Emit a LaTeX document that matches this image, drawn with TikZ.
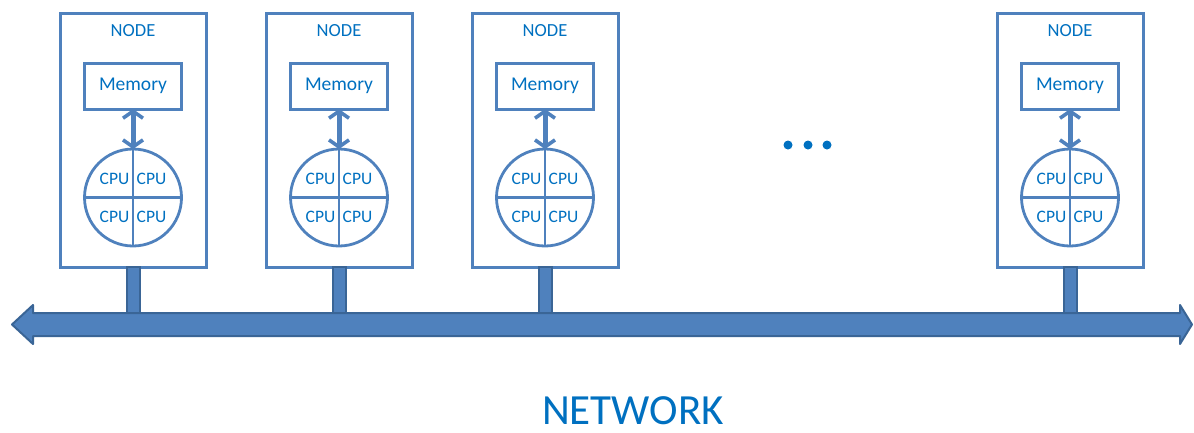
\documentclass[tikz,border=0pt]{standalone}
\usepackage{fontspec}
\setmainfont{Carlito}
\usetikzlibrary{arrows.meta}
\definecolor{frame}{HTML}{4F81BD}
\definecolor{frameDark}{HTML}{3A6596}
\definecolor{labelblue}{HTML}{0070C0}
\begin{document}
\begin{tikzpicture}[x=1pt,y=-1pt,
  nodebox/.style={draw=frame, line width=3pt, minimum width=146pt, minimum height=254pt, inner sep=0pt},
  membox/.style={draw=frame, line width=3pt, minimum width=97pt, minimum height=46pt, inner sep=0pt,
    text=labelblue, font=\fontsize{19.5}{21}\selectfont},
  cpuball/.style={draw=frame, line width=2.8pt, circle, minimum size=97pt, inner sep=0pt},
  cpulabel/.style={text=labelblue, font=\fontsize{17.5}{19}\selectfont, inner sep=0pt},
  titlelabel/.style={text=labelblue, font=\fontsize{18.5}{20}\selectfont, inner sep=0pt},
  busarrow/.style={draw=frame, line width=5pt,
    {Straight Barb[length=7pt,width=20pt,line width=3.6pt]}-{Straight Barb[length=7pt,width=20pt,line width=3.6pt]}},
  stembar/.style={fill=frame, draw=frameDark, line width=2pt},
  dot/.style={circle, fill=labelblue, minimum size=9pt, inner sep=0pt}
]
\useasboundingbox (0,0) rectangle (1194,432);

% network backbone
\path[fill=frame, draw=frameDark, line width=2pt, line join=round]
  (12,324.5) -- (33,305) -- (33,313) -- (1180,313) -- (1180,305) -- (1192,324.5)
  -- (1180,344) -- (1180,336) -- (33,336) -- (33,344) -- cycle;

% compute nodes
\foreach \i/\cx in {1/133, 2/339, 3/545, 4/1070} {
  \node[nodebox] (box\i) at (\cx,140) {};
  \node[titlelabel] (title\i) at (\cx,31) {NODE};
  \node[membox] (mem\i) at (\cx,86) {Memory};
  \node[cpuball] (cpu\i) at (\cx,197.5) {};
  \draw[frame, line width=2.8pt] (cpu\i.north) -- (cpu\i.south)
                                  (cpu\i.west) -- (cpu\i.east);
  \node[cpulabel] (cpu\i a) at (\cx-18.5,178.5) {CPU};
  \node[cpulabel] (cpu\i b) at (\cx+18.5,178.5) {CPU};
  \node[cpulabel] (cpu\i c) at (\cx-18.5,217) {CPU};
  \node[cpulabel] (cpu\i d) at (\cx+18.5,217) {CPU};
  \draw[busarrow] ([yshift=1.5pt]mem\i.south) -- ([yshift=-1.5pt]cpu\i.north);
  \coordinate (tap\i) at (\cx,313);
  \draw[stembar] ([xshift=-6.5pt,yshift=1.5pt]box\i.south) rectangle ([xshift=6.5pt]tap\i);
}

% ellipsis between nodes
\node[dot] (d1) at (788,145) {};
\node[dot] (d2) at (808,145) {};
\node[dot] (d3) at (827,145) {};

\node[text=labelblue, font=\fontsize{43}{46}\selectfont, inner sep=0pt] (net) at (633,411) {NETWORK};
\end{tikzpicture}
\end{document}
